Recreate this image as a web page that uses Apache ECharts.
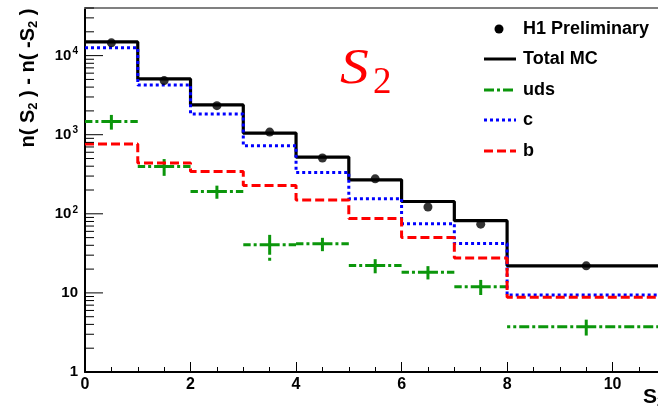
<!DOCTYPE html>
<html>
<head>
<meta charset="utf-8">
<script src="https://cdn.jsdelivr.net/npm/echarts@6/dist/echarts.min.js"></script>
<style>
  html, body { margin: 0; padding: 0; background: #fff; }
  #main { width: 658px; height: 412px; }
</style>
</head>
<body>
<div id="main"></div>
<script>
// Histogram binning in S2 (the last bin is wide: 8 to 11)
const binEdges = [0, 1, 2, 3, 4, 5, 6, 7, 8, 11];
const binCentres = [0.5, 1.5, 2.5, 3.5, 4.5, 5.5, 6.5, 7.5, 9.5];

// n(S2) - n(-S2) per bin
const h1Data = [14500, 4830, 2330, 1080, 507, 277, 122, 74, 22];
const totalMC = [14900, 5070, 2380, 1050, 522, 269, 143, 82, 22];
const cQuark = [12600, 4260, 1830, 726, 333, 155, 75, 42, 9.4];
const bQuark = [762, 438, 343, 228, 150, 87, 50, 27.7, 8.8];
const udsVals = [1470, 397, 191, 40.5, 41.7, 22.2, 18.3, 12.0, 3.74];
const udsErr = [310, 95, 36, 15, 8, 4.5, 3.5, 2.6, 0.85];

// Visible axis ranges and decade ticks
const xRange = [0, 10.86];
const yRange = [1, 40000];
const yDecades = [1, 10, 100, 1000, 10000];

const FONT = '"Liberation Sans", Arial, Helvetica, sans-serif';
const GREEN = '#0b960b';

// Step outline: one point per left bin edge plus the final right edge
function stepData(vals) {
  return binEdges.map((e, i) => [e, vals[Math.min(i, vals.length - 1)]]);
}

// Log-axis tick values (1..9 per decade); major ticks are the decades
const yTickVals = [];
yDecades.forEach(d => {
  for (let m = 1; m <= 9; m++) {
    const v = m * d;
    if (v <= yRange[1]) yTickVals.push([v, m === 1 ? 1 : 0]);
  }
});

const udsItems = binCentres.map((c, i) => [c, udsVals[i], udsErr[i], binEdges[i], binEdges[i + 1]]);

const chart = echarts.init(document.getElementById('main'), null, { renderer: 'canvas' });

const supLabel = v => {
  if (v === 1) return '1';
  if (v === 10) return '10';
  const e = Math.round(Math.log10(v));
  return '10{sup|' + e + '}';
};

const legendRows = [
  { y: 29, label: 'H1 Preliminary', kind: 'dot' },
  { y: 59, label: 'Total MC', kind: 'line', color: '#000', dash: null },
  { y: 90, label: 'uds', kind: 'line', color: GREEN, dash: [10, 3, 3, 3] },
  { y: 120, label: 'c', kind: 'line', color: '#0000ff', dash: [3, 3] },
  { y: 151, label: 'b', kind: 'line', color: '#ff0000', dash: [9, 4] }
];

const legendGraphics = [];
legendRows.forEach(r => {
  if (r.kind === 'dot') {
    legendGraphics.push({ type: 'circle', shape: { cx: 499, cy: r.y, r: 4.5 }, style: { fill: '#000' } });
  } else {
    legendGraphics.push({
      type: 'line', shape: { x1: 484, y1: r.y, x2: 516, y2: r.y },
      style: { stroke: r.color, lineWidth: 3, lineDash: r.dash }
    });
  }
  legendGraphics.push({
    type: 'text', x: 523, y: r.y,
    style: { text: r.label, font: 'bold 18px ' + FONT, fill: '#000', verticalAlign: 'middle', align: 'left' }
  });
});

const option = {
  animation: false,
  backgroundColor: '#fff',
  grid: { left: 85, right: 0, top: 8, bottom: 40, containLabel: false },
  xAxis: [{
    type: 'value', min: xRange[0], max: xRange[1], interval: 2,
    axisLine: { lineStyle: { color: '#000', width: 2 } },
    axisTick: { inside: true, length: 10, lineStyle: { color: '#000', width: 1 } },
    minorTick: { show: true, splitNumber: 4, length: 5, lineStyle: { color: '#000', width: 1 } },
    splitLine: { show: false },
    axisLabel: { color: '#000', fontFamily: FONT, fontWeight: 'bold', fontSize: 16, margin: 5, showMaxLabel: false }
  }, {
    type: 'value', position: 'top', min: xRange[0], max: xRange[1],
    axisLine: { show: true, onZero: false, lineStyle: { color: '#808080', width: 2 } },
    axisTick: { show: false }, axisLabel: { show: false }, splitLine: { show: false }
  }],
  yAxis: {
    type: 'log', logBase: 10, min: yRange[0], max: yRange[1],
    axisLine: { show: true, lineStyle: { color: '#000', width: 2 } },
    axisTick: { show: false },
    splitLine: { show: false },
    axisLabel: {
      color: '#000', fontFamily: FONT, fontWeight: 'bold', fontSize: 15, margin: 7,
      showMaxLabel: false,
      formatter: supLabel,
      rich: { sup: { fontSize: 10, fontWeight: 'bold', fontFamily: FONT, color: '#000', verticalAlign: 'top', padding: [0, 0, 8, 1] } }
    }
  },
  series: [
    {
      // tick marks along the log axis
      type: 'custom', silent: true, z: 5,
      data: yTickVals,
      renderItem: (params, api) => {
        const p = api.coord([xRange[0], api.value(0)]);
        const len = api.value(1) ? 18 : 9;
        return { type: 'line', shape: { x1: p[0], y1: p[1], x2: p[0] + len, y2: p[1] }, style: { stroke: '#000', lineWidth: 1 } };
      },
      encode: { y: 0 }
    },
    {
      name: 'Total MC', type: 'line', step: 'end', showSymbol: false, z: 2,
      data: stepData(totalMC),
      lineStyle: { color: '#000', width: 3.2 }
    },
    {
      name: 'uds', type: 'custom', z: 3, clip: true,
      data: udsItems,
      encode: { x: 0, y: 1 },
      renderItem: (params, api) => {
        const xc = api.value(0), v = api.value(1), e = api.value(2), lo = api.value(3), hi = api.value(4);
        const c = api.coord([xc, v]);
        const l = api.coord([lo, v]);
        const r = api.coord([hi, v]);
        const t = api.coord([xc, v + e]);
        const b = api.coord([xc, v - e]);
        const st = { stroke: GREEN, lineWidth: 3, lineDash: [10, 3, 3, 3], lineCap: 'butt' };
        const seg = (a, z) => ({ type: 'line', shape: { x1: a[0], y1: a[1], x2: z[0], y2: z[1] }, style: st });
        return { type: 'group', children: [seg(c, l), seg(c, r), seg(c, t), seg(c, b)] };
      }
    },
    {
      name: 'c', type: 'line', step: 'end', showSymbol: false, z: 4,
      data: stepData(cQuark),
      lineStyle: { color: '#0000ff', width: 3, type: [3, 3] }
    },
    {
      name: 'b', type: 'line', step: 'end', showSymbol: false, z: 4,
      data: stepData(bQuark),
      lineStyle: { color: '#ff0000', width: 3, type: [9, 4] }
    },
    {
      name: 'H1 Preliminary', type: 'scatter', z: 6,
      data: binCentres.map((c, i) => [c, h1Data[i]]),
      symbol: 'circle', symbolSize: 9,
      itemStyle: { color: '#000' }
    }
  ],
  graphic: [
    // process label
    { type: 'text', x: 340, y: 70, scaleX: 1.15, style: { text: 'S', font: 'italic 50px "Liberation Serif", "Times New Roman", serif', fill: '#ff0000', verticalAlign: 'middle', align: 'left' } },
    { type: 'text', x: 373, y: 83, style: { text: '2', font: '37px "Liberation Serif", "Times New Roman", serif', fill: '#ff0000', verticalAlign: 'middle', align: 'left' } },
    // y-axis title
    {
      type: 'text', x: 28, y: 78, rotation: Math.PI / 2,
      style: {
        text: 'n( S{sub|2} ) - n( -S{sub|2} )',
        font: 'bold 20px ' + FONT, fill: '#000', align: 'center', verticalAlign: 'middle',
        rich: { sub: { fontSize: 13, fontWeight: 'bold', fontFamily: FONT, fill: '#000', verticalAlign: 'bottom', padding: [10, 0, 0, 0] } }
      }
    },
    // x-axis title
    {
      type: 'text', x: 643, y: 397,
      style: {
        text: 'S{sub|2}', font: 'bold 21px ' + FONT, fill: '#000', align: 'left', verticalAlign: 'middle',
        rich: { sub: { fontSize: 14, fontWeight: 'bold', fontFamily: FONT, fill: '#000', verticalAlign: 'bottom', padding: [10, 0, 0, 0] } }
      }
    }
  ].concat(legendGraphics)
};

chart.setOption(option);
</script>
</body>
</html>
